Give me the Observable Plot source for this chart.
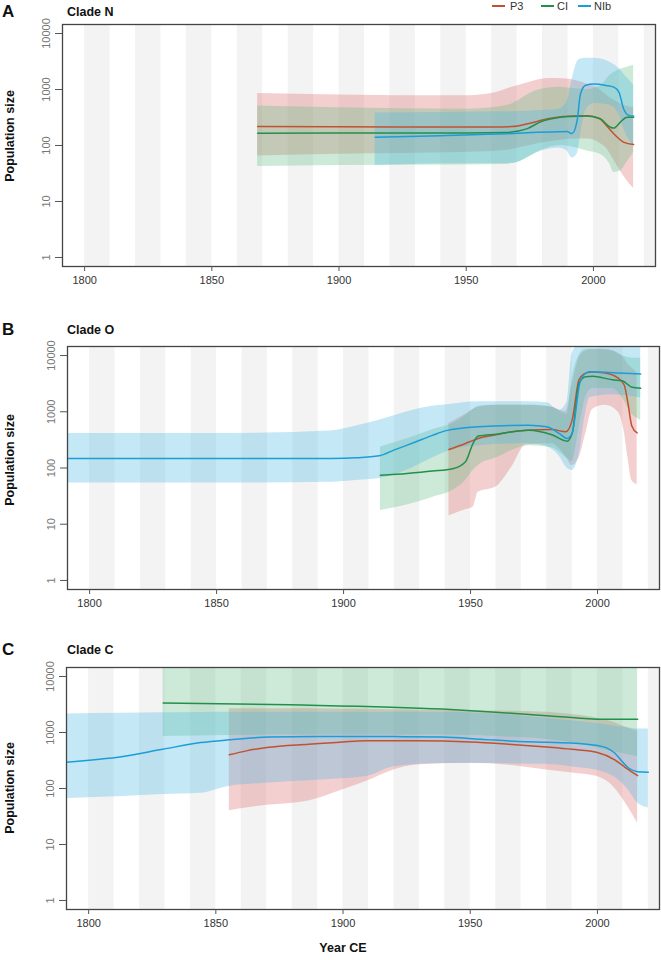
<!DOCTYPE html>
<html><head><meta charset="utf-8">
<script src="https://cdn.jsdelivr.net/npm/d3@7"></script>
<script src="https://cdn.jsdelivr.net/npm/@observablehq/plot@0.6"></script>
<style>
body{margin:0;background:#fff;font-family:"Liberation Sans",Arial,sans-serif;}
#root{position:relative;width:661px;height:960px;overflow:hidden;background:#fff}
.panel{position:absolute;left:0}
.t{position:absolute;white-space:nowrap;color:#111;line-height:1}
.b{font-weight:bold}
.rot{transform:translate(-50%,-50%) rotate(-90deg)}
.sw{position:absolute;height:2px}
</style></head><body>
<div id="root"></div>
<script>
// ---- data: [year, lower, median, upper] ----
const seriesNames = ["P3", "CI", "NIb"];
const yTicks = [1, 10, 100, 1000, 10000];
const xTicks = [1800, 1850, 1900, 1950, 2000];
const bandStarts = [1780, 1800, 1820, 1840, 1860, 1880, 1900, 1920, 1940, 1960, 1980, 2000, 2020];

// Clade N
const N_P3 = [
 [1868,65,218,850],[1900,70,216,800],[1949,75,214,770],[1960,78,214,850],[1968,85,218,1100],
 [1975,100,250,1350],[1982,115,300,1580],[1988,125,330,1550],[1993,130,338,1450],[1997.5,130,340,1250],
 [2002.5,110,300,1000],[2005,90,230,800],[2008,55,162,650],[2012,28,114,520],[2015.8,17,104,480]];
const N_CI = [
 [1868,42,166,510],[1900,44,167,470],[1950,45,168,445],[1966,46,170,520],[1970,50,180,620],
 [1974,60,200,800],[1979,80,262,1000],[1987,100,320,1100],[1991,95,330,1050],[1997.5,80,335,1000],
 [2002.7,70,300,1150],[2006.6,45,212,1800],[2008,33,205,2000],[2010.6,35,262,2300],[2013.2,50,320,2500],[2015.8,75,320,2700]];
const N_NIb = [
 [1914.2,44,141,380],[1940,47,150,390],[1968.5,48,164,400],[1978,75,172,420],[1986,90,176,440],
 [1989.6,80,178,600],[1991.6,60,163,1500],[1993.6,70,280,3100],[1994.9,150,830,3500],[1996.8,400,1180,3600],
 [2000.1,560,1250,3600],[2005,540,1180,3300],[2008,480,1100,2800],[2010,350,900,2400],[2011.9,200,450,1900],
 [2013.9,130,345,1500],[2015.8,100,335,1200]];

// Clade O
const O_P3 = [
 [1941.5,14,213,620],[1948,18,273,900],[1951,20,310,1100],[1953,37,335,1200],[1960,46,390,1300],
 [1966,100,440,1300],[1972,260,470,1300],[1982,270,485,1200],[1987.5,160,440,1000],[1990,110,710,3000],
 [1992.7,150,3700,9000],[1995.3,400,4870,12000],[1998,1100,5100,13000],[2003,1300,4900,13000],
 [2008,1000,4000,11000],[2010.5,450,3000,9000],[2012,150,1400,7000],[2013.5,60,560,6000],[2015.6,50,420,5000]];
const O_CI = [
 [1914.5,17.6,74,236],[1925,22,80,330],[1935,30,88,480],[1943,40,97,620],[1948,60,129,850],
 [1951,90,275,1100],[1953,110,370,1250],[1960,150,400,1300],[1973,250,470,1300],[1982,230,390,1200],
 [1988,150,300,900],[1990,130,410,4000],[1992.7,500,3200,10000],[1995.3,1800,4200,13000],[1998,2600,4300,13000],
 [2005.8,2600,3700,12000],[2009.7,1800,3550,10000],[2013.6,900,2730,9000],[2017,700,2630,9000]];
const O_NIb = [
 [1791,54,147,410],[1850,54,147,410],[1895,56,148,457],[1905,60,152,560],[1914,65,165,710],
 [1920,75,210,850],[1927,100,275,1050],[1935,150,380,1250],[1940,190,457,1320],[1953,250,540,1510],
 [1973,270,575,1510],[1980,240,540,1450],[1985,160,410,1070],[1988,100,335,1500],[1990,90,415,11000],
 [1993,200,3200,16000],[1995,800,4700,16000],[1997,1800,5150,16000],[2005.8,2000,4970,16000],[2017,1750,4700,16000]];

// Clade C
const C_P3 = [
 [1855.3,40,400,2650],[1862,45,470,2650],[1870,50,540,2650],[1886.5,60,620,2650],[1900,95,680,2600],
 [1909,133,710,2600],[1920,215,710,2550],[1929,263,710,2500],[1950,282,680,2450],[1965,260,620,2400],
 [1980,215,550,2300],[1990,190,500,2100],[2000,163,440,1800],[2006.8,101,325,1500],[2011,55,237,1250],[2015.8,24,170,1050]];
const C_CI = [
 [1829.3,850,3380,16000],[1879,900,3120,16000],[1939,900,2620,16000],[1960,850,2300,16000],
 [1980,750,2000,16000],[1995,600,1780,16000],[2002,500,1730,16000],[2015.8,370,1730,16000]];
const C_NIb = [
 [1791,66,295,2150],[1813.5,72,372,2200],[1829,78,500,2250],[1844,82,660,2280],[1855,109,740,2300],
 [1871,125,830,2300],[1890,140,850,2300],[1909,163,850,2300],[1920,245,845,2300],[1939,280,830,2300],
 [1954,280,760,2200],[1969,275,690,2000],[1980,270,670,1800],[1991,240,645,1600],[2002,200,560,1400],
 [2006.8,160,430,1300],[2009.7,125,304,1250],[2012.4,90,230,1200],[2015.8,55,200,1150],[2020,45,195,1150]];

// ---- styles ----
const lineColors = {P3: "#c0522f", CI: "#22904a", NIb: "#1a9dd8"};
const bandColors = {P3: "#e07a7e", CI: "#5fbf84", NIb: "#4bb8e3"};
const bandOpacity = {P3: 0.36, CI: 0.32, NIb: 0.32};

const root = document.getElementById("root");

function panel(data, top, height, mt, mb, ml, mr) {
  const marks = [
    Plot.rect(bandStarts, {x1: d => d, x2: d => d + 10, fill: "#f3f3f3", clip: true}),
    ...seriesNames.map((s, i) => Plot.areaY(data[i], {x: r => r[0], y1: r => r[1], y2: r => r[3],
      fill: bandColors[s], fillOpacity: bandOpacity[s], curve: "monotone-x", clip: true})),
    ...seriesNames.map((s, i) => Plot.line(data[i], {x: r => r[0], y: r => r[2],
      stroke: lineColors[s], strokeWidth: 1.5, curve: "monotone-x", clip: true})),
    Plot.frame({stroke: "#444", strokeWidth: 1.3}),
    Plot.axisY({ticks: yTicks, tickFormat: d => String(d), tickSize: 7, tickRotate: -90, tickPadding: 6,
      label: null, stroke: "#555", fill: "#777"}),
    Plot.axisX({ticks: xTicks, tickFormat: d => String(d), tickSize: 5, tickPadding: 5,
      label: null, stroke: "#555", fill: "#333"})
  ];
  const svg = Plot.plot({
    width: 661, height, marginTop: mt, marginBottom: mb, marginLeft: ml, marginRight: mr,
    style: {fontSize: "11px", fontFamily: "Liberation Sans, Arial, sans-serif", background: "transparent"},
    x: {domain: [1791.3, 2024.4]},
    y: {type: "log", domain: [0.69, 14490]},
    marks
  });
  svg.classList.add("panel");
  svg.style.top = top + "px";
  root.appendChild(svg);
}

panel([N_P3, N_CI, N_NIb], 0, 300, 24, 34, 62, 6);
panel([O_P3, O_CI, O_NIb], 300, 320, 46, 31, 67, 2);
panel([C_P3, C_CI, C_NIb], 620, 340, 47, 51, 66, 2);

function txt(s, x, y, cls, size, extra) {
  const d = document.createElement("div");
  d.className = "t " + cls;
  d.textContent = s;
  d.style.left = x + "px";
  d.style.top = y + "px";
  d.style.fontSize = size + "px";
  if (extra) Object.assign(d.style, extra);
  root.appendChild(d);
}
const letters = ["A", "B", "C"];
const titles = ["Clade N", "Clade O", "Clade C"];
const titleTops = [6, 324, 644];
const yLabelCenters = [136, 460, 788];
letters.forEach((l, i) => {
  txt(l, 2, titleTops[i] - 3, "b", 17);
  txt(titles[i], 67, titleTops[i], "b", 12.5);
  txt("Population size", 10, yLabelCenters[i], "b rot", 12.5);
});
txt("Year CE", 343, 948, "b", 12.5, {transform: "translate(-50%,-50%)"});

// legend
const legX = [492, 541, 578];
const legTextX = [510, 557, 594];
seriesNames.forEach((s, i) => {
  const sw = document.createElement("div");
  sw.className = "sw";
  sw.style.left = legX[i] + "px";
  sw.style.top = "5px";
  sw.style.width = "13px";
  sw.style.background = lineColors[s];
  root.appendChild(sw);
  txt(s, legTextX[i], 1, "", 11, {color: "#333"});
});
</script>
</body></html>
